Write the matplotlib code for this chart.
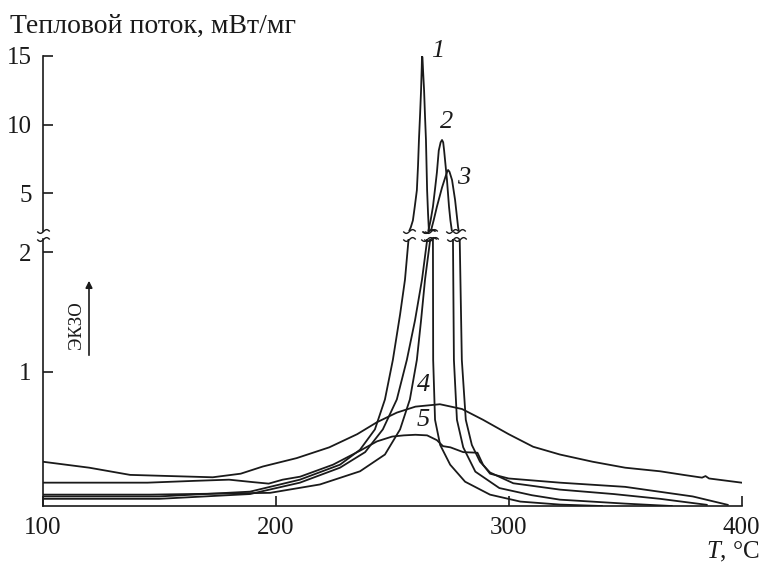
import numpy as np
import matplotlib
matplotlib.use("Agg")
import matplotlib.pyplot as plt
from matplotlib.path import Path

plt.rcParams['font.family'] = ['Liberation Serif', 'DejaVu Serif']
plt.rcParams['font.size'] = 18
plt.rcParams['mathtext.fontset'] = 'custom'
plt.rcParams['mathtext.it'] = 'Liberation Serif:italic'
plt.rcParams['mathtext.rm'] = 'Liberation Serif'

# heat flow curves, T in deg C, flow in mW/mg
T1 = [100, 150, 189, 210.4, 227.6, 236.2, 242.6, 246.9, 250.3, 253.4, 255.5, 257.0, 258.0,
      258.9, 259.7, 260.6, 261.1, 261.5, 262.0, 262.4, 262.7, 262.8, 263.0, 263.3, 263.7,
      264.1, 264.5, 265.0, 265.4, 265.8, 267.5, 267.6, 268.4,
      270.6, 274.9, 281.3, 292, 305, 322, 340]
v1 = [-0.04, -0.04, 0.0, 0.1, 0.225, 0.35, 0.52, 0.77, 1.1, 1.48, 1.77, 2.1, 2.5,
      3.0, 4.0, 5.2, 7.0, 8.9, 10.8, 12.5, 14.2, 15.0, 14.9, 13.8, 12.5,
      10.6, 8.9, 5.2, 3.5, 2.15, 2.1, 1.1, 0.6,
      0.39, 0.225, 0.083, -0.025, -0.083, -0.108, -0.12]

T2 = [100, 150, 189, 210.4, 227.6, 238.4, 246.0, 252.0, 256.3, 259.8, 262.8, 265.0, 265.4,
      266.5, 267.5, 268.4, 269.2, 270.0, 270.8, 271.4, 271.9, 272.3, 273.5, 274.4, 275.0,
      275.7, 276.1, 276.5, 277.8, 280.5, 285.7, 296, 310, 322, 350, 370]
v2 = [-0.06, -0.06, -0.02, 0.075, 0.2, 0.33, 0.52, 0.77, 1.1, 1.43, 1.77, 2.1, 2.15,
      3.0, 4.0, 5.3, 6.5, 8.1, 8.7, 8.87, 8.7, 8.1, 6.0, 4.0, 3.0,
      2.15, 2.1, 1.1, 0.6, 0.37, 0.167, 0.03, -0.03, -0.067, -0.1, -0.12]

T3 = [100, 146, 197.6, 219, 236.2, 246.9, 253.4, 257.6, 260.6, 262.4, 264.1, 266.3, 266.5,
      267.8, 269.2, 271.4, 272.9, 273.6, 274.0, 274.6, 275.7, 277.0, 278.3, 278.7, 279.0,
      279.9, 281.6, 284.2, 287.7, 292, 302, 322, 345, 365, 385]
v3 = [-0.025, -0.025, -0.01, 0.06, 0.17, 0.31, 0.52, 0.77, 1.1, 1.43, 1.77, 2.1, 2.15,
      3.0, 4.0, 5.4, 6.2, 6.55, 6.68, 6.55, 5.95, 4.5, 2.5, 2.15, 2.1,
      1.1, 0.6, 0.39, 0.25, 0.16, 0.07, 0.017, -0.02, -0.06, -0.11]

T4 = [100, 120, 137.5, 155, 173, 185, 194.5, 209, 223, 235, 243.5, 252, 260, 270.5, 280,
      289, 300, 310.5, 322, 336, 350, 365, 375, 383, 384.5, 386, 400]
v4 = [0.25, 0.2, 0.14, 0.13, 0.12, 0.15, 0.21, 0.28, 0.37, 0.48, 0.58, 0.66, 0.71, 0.73, 0.69,
      0.6, 0.48, 0.375, 0.31, 0.25, 0.2, 0.17, 0.14, 0.117, 0.13, 0.11, 0.075]

T5 = [100, 145, 165, 180, 190, 197, 203, 210.5, 224.6, 236, 243.5, 250, 255, 260, 265, 269.2,
      271.8, 275, 280.5, 286.6, 289, 292, 300, 322, 350, 379, 394]
v5 = [0.075, 0.075, 0.09, 0.1, 0.08, 0.067, 0.1, 0.125, 0.225, 0.34, 0.42, 0.46, 0.47, 0.475, 0.47, 0.43,
      0.38, 0.37, 0.33, 0.325, 0.225, 0.15, 0.11, 0.075, 0.04, -0.04, -0.11]

curves = [(T1, v1), (T2, v2), (T3, v3), (T4, v4), (T5, v5)]
labels = ['1', '2', '3', '4', '5']
label_pos = [(269.4, 15.4), (273.2, 10.2), (280.8, 6.1), (263.5, 0.89), (263.2, 0.6)]

low_lim = (-0.12, 2.11)
up_lim = (2.23, 15.0)
ink = '#1a1a1a'

fig = plt.figure(figsize=(7.62, 5.65), dpi=100)
ax_up = fig.add_axes([0.056, 0.5912, 0.9173, 0.3097])
ax_lo = fig.add_axes([0.056, 0.1044, 0.9173, 0.4726])

for T, v in curves:
    ax_up.plot(T, v, color=ink, lw=1.3)
    ax_lo.plot(T, v, color=ink, lw=1.3)

for ax in (ax_up, ax_lo):
    ax.set_xlim(100, 400)
    for s in ('top', 'right'):
        ax.spines[s].set_visible(False)
    ax.spines['left'].set_color(ink)
    ax.spines['left'].set_linewidth(1.2)
    ax.tick_params(direction='in', length=7, width=1.2, color=ink, labelcolor=ink, labelsize=18, pad=8)
    ax.set_facecolor('none')

ax_up.set_ylim(*up_lim)
ax_up.set_yticks([5, 10, 15])
ax_up.spines['bottom'].set_visible(False)
ax_up.set_xticks([])

ax_lo.set_ylim(*low_lim)
ax_lo.set_yticks([1, 2])
ax_lo.spines['bottom'].set_color(ink)
ax_lo.spines['bottom'].set_linewidth(1.2)
ax_lo.set_xticks([100, 200, 300, 400])


# wavy break marks where the lines leave one panel and enter the other
wx = np.linspace(-1, 1, 25)
tilde = Path(np.column_stack([wx, 0.3 * np.sin(np.pi * wx)]))


def crossings(T, v, level):
    T = np.asarray(T, float)
    v = np.asarray(v, float)
    out = []
    for i in range(len(T) - 1):
        if (v[i] - level) * (v[i + 1] - level) < 0:
            out.append(T[i] + (level - v[i]) * (T[i + 1] - T[i]) / (v[i + 1] - v[i]))
    return out


for ax, level in ((ax_up, up_lim[0]), (ax_lo, low_lim[1])):
    xs = [100]
    for T, v in curves:
        xs += crossings(T, v, level)
    ax.plot(xs, [level] * len(xs), ls='none', marker=tilde, ms=9, mew=1.0,
            mec=ink, mfc='none', clip_on=False)

for (tx, ty), lab in zip(label_pos, labels):
    ax = ax_up if ty > 2.2 else ax_lo
    ax.text(tx, ty, lab, style='italic', fontsize=19, color=ink, ha='center', va='center')

fig.text(0.013, 1 - 33 / 565, 'Тепловой поток, мВт/мг', fontsize=20, color=ink, va='baseline')
fig.text(0.997, 1 - 558 / 565, '$T$, °C', fontsize=18, color=ink, va='baseline', ha='right')

# exo direction arrow
fig.text(77 / 762, 1 - 325 / 565, 'ЭКЗО', rotation=90, fontsize=13.5, color=ink, ha='center', va='center')
fig.add_artist(matplotlib.patches.FancyArrowPatch((89 / 762, 1 - 358 / 565), (89 / 762, 1 - 278 / 565),
                                                  transform=fig.transFigure, arrowstyle='-|>',
                                                  mutation_scale=10, color=ink, lw=1.2))

fig.savefig('out.png', dpi=100)
